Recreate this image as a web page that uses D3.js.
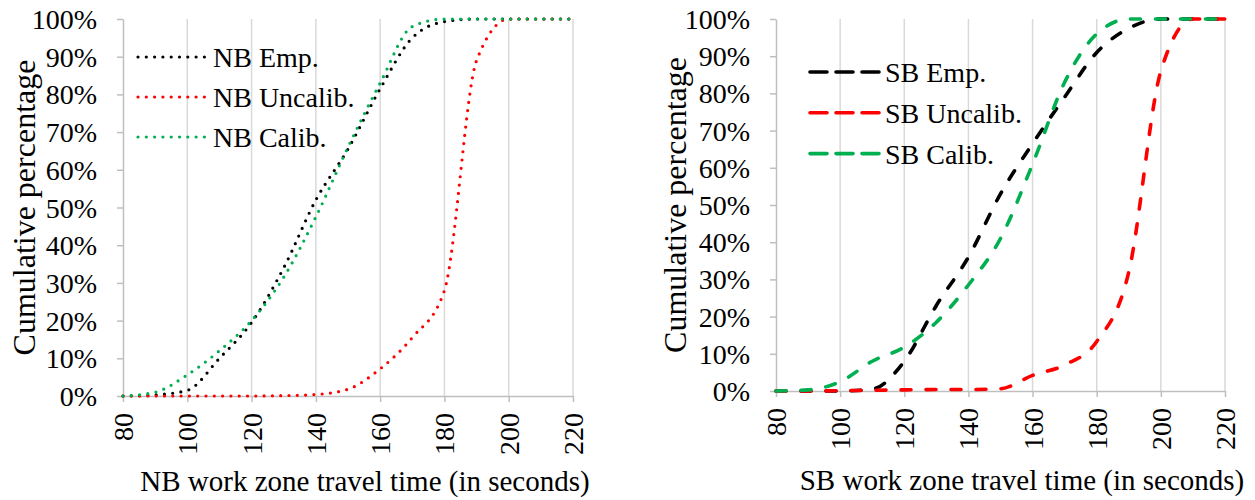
<!DOCTYPE html>
<html>
<head>
<meta charset="utf-8">
<script src="https://cdn.jsdelivr.net/npm/d3@7"></script>
<style>
  body { margin: 0; background: #fff; }
  svg { display: block; }
  svg text { font-family: "Liberation Serif", "DejaVu Serif", "Times New Roman", Times, serif; fill: #000; }
  .axis path, .axis line { stroke: #bfbfbf; stroke-width: 1.5; }
  .axis text { font-size: 28px; }
</style>
</head>
<body>
<div id="chart"></div>
<script>
// travel time bins (seconds)
var times = [80, 90, 100, 110, 120, 130, 140, 150, 160, 170, 180, 190, 200, 210, 220];
var xTicks = [80, 100, 120, 140, 160, 180, 200, 220];
var yTicks = [0, 10, 20, 30, 40, 50, 60, 70, 80, 90, 100];

// northbound cumulative percentages
var nbEmp      = [0, 0.3, 1.5, 10, 19.5, 34, 52, 65.5, 81.5, 95, 99.3, 100, 100, 100, 100];
var nbUncalib  = [0, 0, 0, 0, 0, 0.1, 0.4, 1.8, 7.2, 15.5, 28, 89, 100, 100, 100];
var nbCalib    = [0, 1, 5.6, 12, 20, 31.5, 47.5, 66, 83, 98, 100, 100, 100, 100, 100];

// southbound cumulative percentages
var sbEmp      = [0, 0, 0, 0.5, 8, 23, 36, 53, 66.5, 79, 91, 97.5, 100, 100, 100];
var sbUncalib  = [0, 0, 0.1, 0.2, 0.3, 0.4, 0.4, 0.6, 4.2, 7, 13.3, 32, 86, 100, 100];
var sbCalib    = [0, 0.3, 2.5, 8, 11.8, 18.5, 28.5, 41, 61, 83, 96, 100, 100, 100, 100];

var nbNames = ["NB Emp.", "NB Uncalib.", "NB Calib."];
var sbNames = ["SB Emp.", "SB Uncalib.", "SB Calib."];
var colors = ["#000000", "#ff0000", "#00b050"];

var svg = d3.select("#chart").append("svg")
  .attr("width", 1255)
  .attr("height", 500);

function drawPanel(opt) {
  var x = d3.scaleLinear().domain([80, 220]).range([opt.left, opt.right]);
  var y = d3.scaleLinear().domain([0, 100]).range([opt.bottom, opt.top]);
  var g = svg.append("g");

  // vertical gridlines
  g.selectAll(".grid")
    .data(xTicks.slice(1))
    .enter()
    .append("line")
      .attr("class", "grid")
      .attr("x1", function(d) { return x(d); })
      .attr("x2", function(d) { return x(d); })
      .attr("y1", opt.top)
      .attr("y2", opt.bottom)
      .style("stroke", "#d9d9d9")
      .style("stroke-width", 1.5);

  var yAxis = g.append("g")
    .attr("class", "axis")
    .attr("transform", "translate(" + opt.left + ",0)")
    .call(d3.axisLeft(y).tickValues(yTicks).tickSize(6).tickSizeOuter(0).tickPadding(20)
      .tickFormat(function(d) { return d + "%"; }));
  yAxis.selectAll("text").attr("dy", "0.34em");

  var xAxis = g.append("g")
    .attr("class", "axis")
    .attr("transform", "translate(0," + opt.bottom + ")")
    .call(d3.axisBottom(x).tickValues(xTicks).tickSize(6).tickSizeOuter(0));
  xAxis.selectAll("text")
    .attr("transform", "rotate(-90)")
    .attr("text-anchor", "end")
    .attr("x", -17)
    .attr("y", 0)
    .attr("dy", "0.34em");

  var line = d3.line()
    .x(function(d) { return x(d[0]); })
    .y(function(d) { return y(d[1]); })
    .curve(d3.curveMonotoneX);

  opt.series.forEach(function(s, i) {
    var pts = times.map(function(t, j) { return [t, s[j]]; });
    g.append("path")
      .datum(pts)
      .attr("d", line)
      .style("fill", "none")
      .style("stroke", colors[i])
      .style("stroke-width", opt.width)
      .style("stroke-linecap", "round")
      .style("stroke-dasharray", opt.dash);
  });

  // legend
  opt.names.forEach(function(n, i) {
    var ly = opt.legY + i * opt.legStep;
    g.append("line")
      .attr("x1", opt.legX).attr("x2", opt.legX + 70)
      .attr("y1", ly).attr("y2", ly)
      .style("stroke", colors[i])
      .style("stroke-width", opt.width)
      .style("stroke-linecap", "round")
      .style("stroke-dasharray", opt.legDash);
    g.append("text")
      .attr("x", opt.legX + 75)
      .attr("y", ly + 10)
      .style("font-size", "28px")
      .text(n);
  });

  g.append("text")
    .attr("transform", "translate(" + opt.yTitleX + "," + ((opt.top + opt.bottom) / 2) + ") rotate(-90)")
    .attr("text-anchor", "middle")
    .style("font-size", "32px")
    .text("Cumulative percentage");

  g.append("text")
    .attr("x", opt.xTitleX)
    .attr("y", opt.xTitleY)
    .attr("text-anchor", "middle")
    .style("font-size", "29px")
    .text(opt.xTitle);
}

drawPanel({
  left: 123, right: 573, top: 19, bottom: 396,
  series: [nbEmp, nbUncalib, nbCalib], names: nbNames,
  width: 3.2, dash: "0,8.3", legDash: "0,8.3",
  legX: 138, legY: 57, legStep: 40,
  yTitleX: 35, xTitleX: 365, xTitleY: 491,
  xTitle: "NB work zone travel time (in seconds)"
});

drawPanel({
  left: 776, right: 1225, top: 19, bottom: 391,
  series: [sbEmp, sbUncalib, sbCalib], names: sbNames,
  width: 3.6, dash: "10,15", legDash: "17,9",
  legX: 810, legY: 72, legStep: 40.8,
  yTitleX: 686, xTitleX: 1022, xTitleY: 490,
  xTitle: "SB work zone travel time (in seconds)"
});
</script>
</body>
</html>
